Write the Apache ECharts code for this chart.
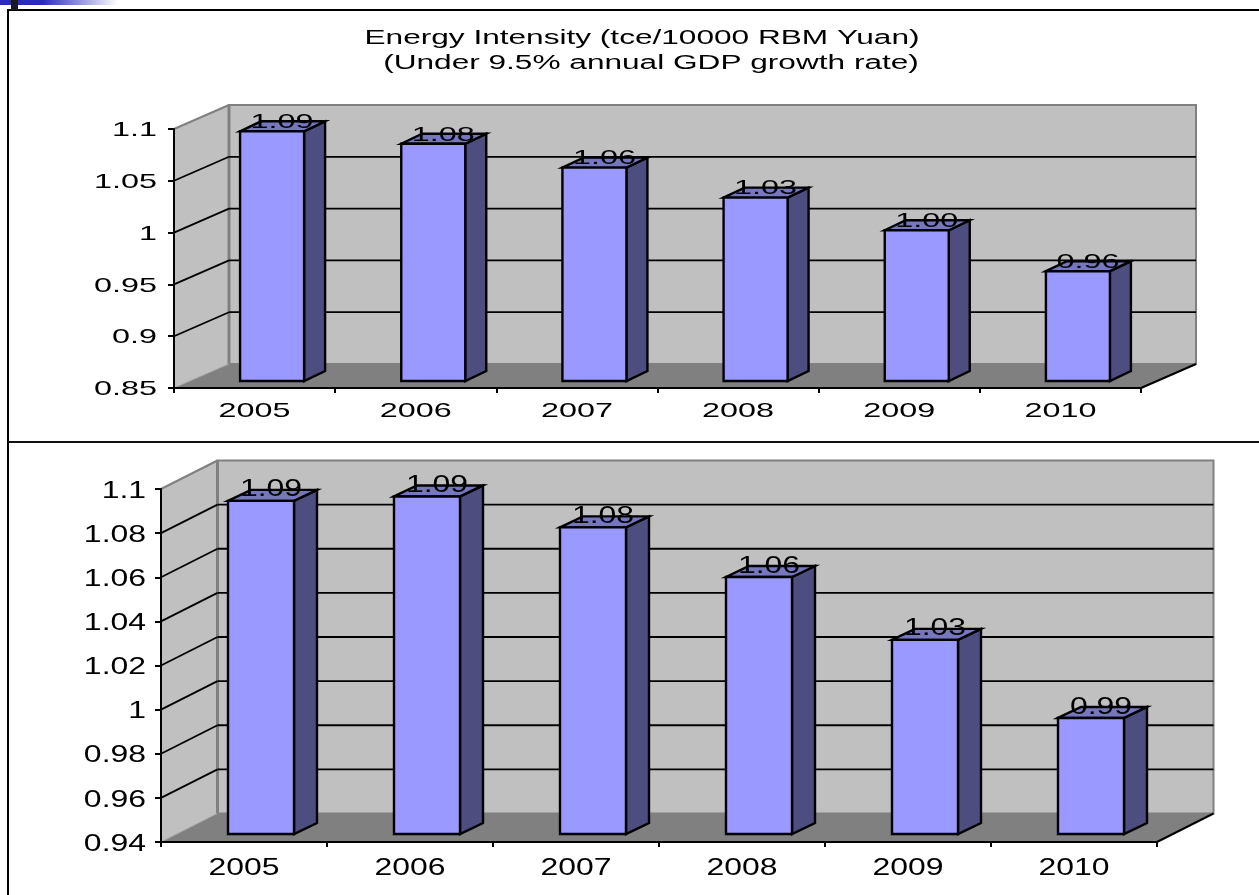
<!DOCTYPE html>
<html>
<head>
<meta charset="utf-8">
<style>html,body{margin:0;padding:0;background:#fff}#c{width:1259px;height:895px}</style>
<script src="https://cdn.jsdelivr.net/npm/echarts@6/dist/echarts.min.js"></script>
</head>
<body>
<div id="c"></div>
<script>
const titleLines = ['Energy Intensity (tce/10000 RBM Yuan)', '(Under 9.5% annual GDP growth rate)'];
const categories = ['2005', '2006', '2007', '2008', '2009', '2010'];
const valuesTop = [1.091, 1.079, 1.056, 1.027, 0.9955, 0.956];
const valuesBottom = [1.091, 1.093, 1.079, 1.0565, 1.028, 0.9926];
const ticksTop = ['1.1', '1.05', '1', '0.95', '0.9', '0.85'];
const ticksBottom = ['1.1', '1.08', '1.06', '1.04', '1.02', '1', '0.98', '0.96', '0.94'];

const FONT = '"Liberation Sans", Arial, sans-serif';
const panels = [
  {values: valuesTop, ticks: ticksTop, min: 0.85, max: 1.1, interval: 0.05,
   grid: {left: 174, top: 129, width: 967, height: 259},
   depth: [55, -24], front: [17.5, -7], side: [21, -10], barW: 64,
   fontSize: 21, scaleX: 1.54, tickRight: 157, catY: 411, labelDy: -9, tickDy: 1.5},
  {values: valuesBottom, ticks: ticksBottom, min: 0.94, max: 1.1, interval: 0.02,
   grid: {left: 161, top: 489, width: 996, height: 353},
   depth: [56.5, -28.5], front: [17, -8], side: [23, -11], barW: 66,
   fontSize: 24, scaleX: 1.33, tickRight: 146, catY: 868, labelDy: -11, tickDy: 2}
];

function txt(p, str, x, y, align) {
  return {type: 'text', x: x, y: y, scaleX: p.scaleX, silent: true,
    style: {text: str, fontFamily: FONT, fontSize: p.fontSize, fill: '#000',
            align: align, verticalAlign: 'middle'}};
}
function poly(points, fill, stroke, lw) {
  return {type: 'polygon', shape: {points: points},
    style: {fill: fill, stroke: stroke || null, lineWidth: lw || 0, lineJoin: 'miter'}};
}
function seg(a, b, color, lw) {
  return {type: 'line', shape: {x1: a[0], y1: a[1], x2: b[0], y2: b[1]},
    style: {stroke: color, lineWidth: lw}};
}

const grids = [], xAxes = [], yAxes = [], series = [];
panels.forEach(function (p, i) {
  grids.push(p.grid);
  xAxes.push({gridIndex: i, type: 'category', data: categories, z: 6,
    axisLine: {lineStyle: {color: '#000', width: 2}},
    axisTick: {show: true, length: 5, lineStyle: {color: '#000', width: 2}},
    axisLabel: {show: false}, splitLine: {show: false}});
  yAxes.push({gridIndex: i, type: 'value', min: p.min, max: p.max, interval: p.interval, z: 6,
    axisLine: {show: true, lineStyle: {color: '#000', width: 2}},
    axisTick: {show: true, length: 6, lineStyle: {color: '#000', width: 2}},
    axisLabel: {show: false}, splitLine: {show: false}});

  // walls, floor and grid lines
  series.push({type: 'custom', xAxisIndex: i, yAxisIndex: i, silent: true, z: 1, clip: false,
    data: [[0, p.min]],
    renderItem: function (params, api) {
      const cs = params.coordSys;
      const L = cs.x, R = cs.x + cs.width, T = api.coord([0, p.max])[1], B = api.coord([0, p.min])[1];
      const dx = p.depth[0], dy = p.depth[1];
      const kids = [
        poly([[L, T], [L + dx, T + dy], [L + dx, B + dy], [L, B]], '#c0c0c0'),
        poly([[L + dx, T + dy], [R + dx, T + dy], [R + dx, B + dy], [L + dx, B + dy]], '#c0c0c0', '#808080', 2),
        poly([[L, B], [L + dx, B + dy], [R + dx, B + dy], [R, B]], '#808080'),
        seg([L, T], [L + dx, T + dy], '#808080', 2),
        seg([L + dx, T + dy], [L + dx, B + dy], '#808080', 3),
        seg([L, B], [L + dx, B + dy], '#a0a0a0', 1),
        seg([R, B], [R + dx, B + dy], '#000', 2)
      ];
      p.ticks.map(Number).filter(function (v) { return v > p.min && v < p.max; }).forEach(function (v) {
        const y = api.coord([0, v])[1];
        kids.push(seg([L, y], [L + dx, y + dy], '#000', 1.8));
        kids.push(seg([L + dx, y + dy], [R + dx, y + dy], '#000', 1.8));
      });
      return {type: 'group', children: kids};
    }});

  // 3D bars with value labels
  series.push({type: 'custom', xAxisIndex: i, yAxisIndex: i, z: 3, clip: false,
    data: p.values.map(function (v, k) { return [k, v]; }),
    encode: {x: 0, y: 1},
    renderItem: function (params, api) {
      const k = api.value(0), v = api.value(1);
      const c = api.coord([k, v]), b = api.coord([k, p.min]);
      const x0 = c[0] + p.front[0] - p.barW / 2, x1 = x0 + p.barW;
      const yT = c[1] + p.front[1], yB = b[1] + p.front[1];
      const sx = p.side[0], sy = p.side[1];
      return {type: 'group', children: [
        poly([[x1, yT], [x1 + sx, yT + sy], [x1 + sx, yB + sy], [x1, yB]], '#4d4d80', '#000', 2.4),
        poly([[x0, yT], [x0 + sx, yT + sy], [x1 + sx, yT + sy], [x1, yT]], '#7777c0', '#000', 2.4),
        poly([[x0, yT], [x1, yT], [x1, yB], [x0, yB]], '#9999ff', '#000', 2.4),
        txt(p, v.toFixed(2), (x0 + x1) / 2 + 10, yT + p.labelDy, 'center')
      ]};
    }});

  // category labels
  series.push({type: 'custom', xAxisIndex: i, yAxisIndex: i, z: 4, clip: false, silent: true,
    data: categories.map(function (c, k) { return [k, p.min]; }),
    renderItem: function (params, api) {
      const k = api.value(0);
      return txt(p, categories[k], api.coord([k, p.min])[0], p.catY, 'center');
    }});

  // value labels
  series.push({type: 'custom', xAxisIndex: i, yAxisIndex: i, z: 4, clip: false, silent: true,
    data: p.ticks.map(function (t) { return [0, Number(t)]; }),
    renderItem: function (params, api) {
      return txt(p, p.ticks[params.dataIndex], p.tickRight, api.coord([0, api.value(1)])[1] + p.tickDy, 'right');
    }});
});

const graphic = [
  {type: 'rect', z: 100, shape: {x: 0, y: 0, width: 118, height: 5}, silent: true,
   style: {fill: {type: 'linear', x: 0, y: 0, x2: 1, y2: 0, colorStops: [
     {offset: 0, color: '#2a2abf'}, {offset: 0.36, color: '#2a2abf'}, {offset: 1, color: '#ffffff'}]}}},
  {type: 'rect', z: 101, shape: {x: 11, y: 0, width: 7, height: 10}, silent: true, style: {fill: '#1a1a1a'}},
  {type: 'line', z: 100, silent: true, shape: {x1: 7, y1: 10, x2: 1259, y2: 10}, style: {stroke: '#000', lineWidth: 2}},
  {type: 'line', z: 100, silent: true, shape: {x1: 8, y1: 10, x2: 8, y2: 895}, style: {stroke: '#000', lineWidth: 2}},
  {type: 'line', z: 100, silent: true, shape: {x1: 8, y1: 442, x2: 1259, y2: 442}, style: {stroke: '#111', lineWidth: 2}},
  {type: 'text', z: 100, silent: true, x: 642, y: 38, scaleX: 1.58,
   style: {text: titleLines[0], fontFamily: FONT, fontSize: 20, fill: '#000', align: 'center', verticalAlign: 'middle'}},
  {type: 'text', z: 100, silent: true, x: 651, y: 63, scaleX: 1.58,
   style: {text: titleLines[1], fontFamily: FONT, fontSize: 20, fill: '#000', align: 'center', verticalAlign: 'middle'}}
];

const chart = echarts.init(document.getElementById('c'), null, {renderer: 'canvas'});
chart.setOption({
  animation: false, backgroundColor: '#fff',
  grid: grids, xAxis: xAxes, yAxis: yAxes, series: series, graphic: graphic
});
</script>
</body>
</html>
